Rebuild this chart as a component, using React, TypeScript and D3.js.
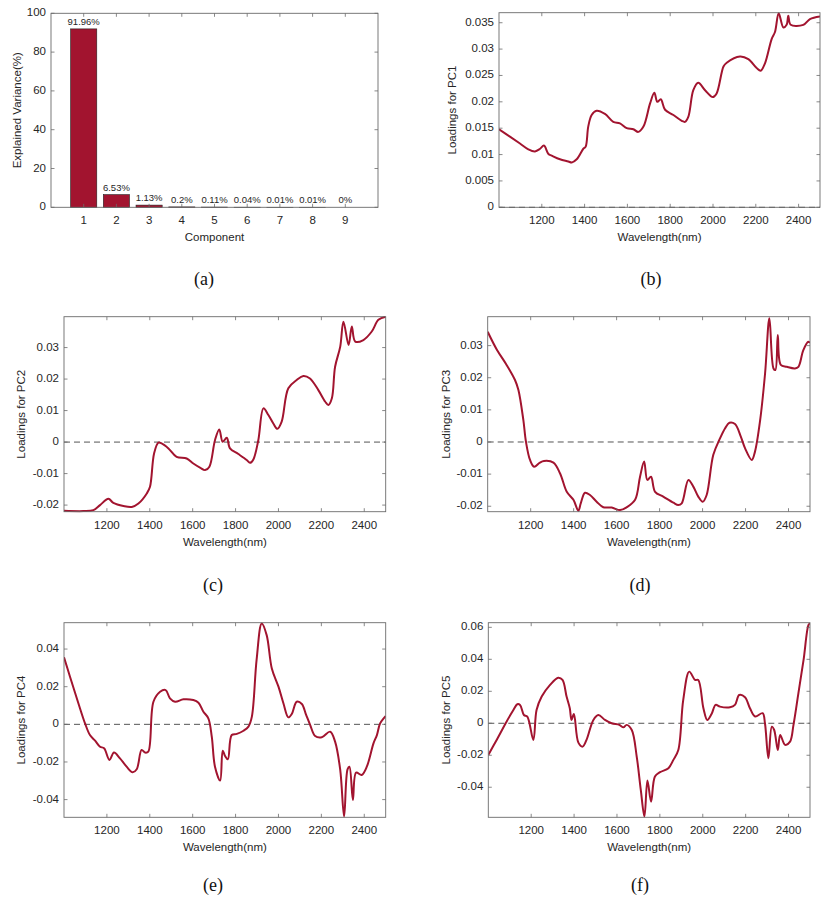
import React from "react";
import * as d3 from "d3";

// ---------- DATA ----------
const components = [1, 2, 3, 4, 5, 6, 7, 8, 9];
const explained = [91.96, 6.53, 1.13, 0.2, 0.11, 0.04, 0.01, 0.01, 0];
const explainedLabels = ["91.96%", "6.53%", "1.13%", "0.2%", "0.11%", "0.04%", "0.01%", "0.01%", "0%"];

const pc1Wl = [1000, 1051, 1098, 1137, 1168, 1192, 1210, 1231, 1246, 1285, 1324, 1340, 1363, 1394, 1405, 1417, 1433, 1456, 1495, 1534, 1565, 1597, 1628, 1651, 1675, 1706, 1726, 1740, 1756, 1776, 1815, 1854, 1869, 1885, 1908, 1931, 1963, 1999, 2017, 2049, 2064, 2126, 2165, 2204, 2223, 2243, 2274, 2290, 2307, 2329, 2344, 2352, 2363, 2422, 2453, 2500];
const pc1Val = [0.0148, 0.0134, 0.0121, 0.011, 0.0106, 0.0111, 0.0117, 0.0101, 0.0098, 0.0091, 0.0087, 0.0085, 0.0091, 0.0111, 0.0115, 0.0153, 0.0175, 0.0183, 0.0177, 0.0162, 0.0159, 0.015, 0.0148, 0.0143, 0.0153, 0.0197, 0.0217, 0.02, 0.0205, 0.0185, 0.0175, 0.0164, 0.0162, 0.0172, 0.0222, 0.0236, 0.0222, 0.0209, 0.0216, 0.0267, 0.0274, 0.0286, 0.0281, 0.0264, 0.0259, 0.0273, 0.0319, 0.0333, 0.0368, 0.0341, 0.0346, 0.0363, 0.0346, 0.0346, 0.0357, 0.0362];

const pc2Wl = [1000, 1090, 1137, 1168, 1207, 1230, 1277, 1316, 1347, 1386, 1401, 1420, 1440, 1455, 1487, 1525, 1572, 1603, 1634, 1658, 1678, 1704, 1724, 1740, 1759, 1774, 1813, 1852, 1867, 1883, 1906, 1930, 1953, 1976, 1995, 2015, 2046, 2085, 2116, 2147, 2186, 2218, 2233, 2249, 2264, 2288, 2303, 2327, 2342, 2358, 2396, 2435, 2466, 2500];
const pc2Val = [-0.0218, -0.0219, -0.0216, -0.02, -0.018, -0.0193, -0.0203, -0.0206, -0.0195, -0.0163, -0.0142, -0.0036, -0.0002, -0.0004, -0.002, -0.0047, -0.0052, -0.0068, -0.0081, -0.0089, -0.0078, 0.0006, 0.004, 0.0001, 0.0014, -0.002, -0.0038, -0.0057, -0.0066, -0.0055, 0.0006, 0.0107, 0.0086, 0.0059, 0.0042, 0.0065, 0.0171, 0.0197, 0.021, 0.0202, 0.0165, 0.0128, 0.0118, 0.0139, 0.0239, 0.0303, 0.0382, 0.0308, 0.0367, 0.0319, 0.0324, 0.0351, 0.0388, 0.0398];

const pc3Wl = [1000, 1042, 1088, 1127, 1143, 1166, 1178, 1197, 1216, 1243, 1262, 1306, 1337, 1368, 1399, 1422, 1433, 1453, 1476, 1507, 1538, 1577, 1616, 1647, 1686, 1709, 1728, 1743, 1760, 1779, 1817, 1864, 1887, 1903, 1934, 1957, 1980, 2001, 2019, 2050, 2081, 2105, 2125, 2151, 2178, 2198, 2229, 2244, 2268, 2291, 2311, 2330, 2339, 2350, 2364, 2392, 2430, 2446, 2469, 2492, 2500];
const pc3Val = [0.0343, 0.0288, 0.024, 0.0193, 0.0162, 0.0068, 0.0001, -0.0056, -0.0077, -0.0064, -0.0059, -0.0064, -0.0098, -0.0155, -0.018, -0.0214, -0.0191, -0.0158, -0.0165, -0.0186, -0.0203, -0.0204, -0.0212, -0.0203, -0.018, -0.0108, -0.0061, -0.0118, -0.0108, -0.0155, -0.017, -0.0189, -0.0196, -0.0191, -0.0118, -0.0139, -0.017, -0.0186, -0.0165, -0.004, 0.0011, 0.0043, 0.006, 0.0056, 0.0017, -0.002, -0.0056, -0.003, 0.0068, 0.0214, 0.0385, 0.0229, 0.0224, 0.0333, 0.024, 0.0234, 0.0229, 0.0234, 0.0286, 0.0312, 0.0309];

const pc4Wl = [1000, 1028, 1067, 1098, 1121, 1145, 1168, 1187, 1212, 1233, 1261, 1292, 1320, 1339, 1362, 1378, 1393, 1417, 1448, 1474, 1494, 1518, 1557, 1603, 1627, 1650, 1673, 1689, 1704, 1728, 1740, 1751, 1764, 1782, 1806, 1837, 1860, 1876, 1898, 1922, 1945, 1969, 2000, 2023, 2046, 2062, 2085, 2109, 2129, 2148, 2171, 2202, 2241, 2264, 2288, 2306, 2322, 2331, 2347, 2362, 2388, 2412, 2443, 2459, 2474, 2500];
const pc4Val = [0.0356, 0.0253, 0.0112, 0.0005, -0.0057, -0.0087, -0.0119, -0.0127, -0.0189, -0.015, -0.0181, -0.0225, -0.0255, -0.0239, -0.0136, -0.015, -0.0145, 0.012, 0.0173, 0.0182, 0.0138, 0.012, 0.0133, 0.0129, 0.0115, 0.0067, 0.0032, -0.0065, -0.0225, -0.0299, -0.014, -0.0168, -0.0186, -0.0057, -0.0051, -0.0034, -0.0012, 0.0041, 0.0342, 0.0536, 0.0474, 0.0297, 0.02, 0.0112, 0.0037, 0.0055, 0.012, 0.0108, 0.005, -0.0004, -0.0062, -0.0069, -0.0039, -0.0092, -0.0242, -0.049, -0.0239, -0.0225, -0.0402, -0.0257, -0.0269, -0.0225, -0.0101, -0.0057, 0.0005, 0.0044];

const pc5Wl = [1000, 1039, 1085, 1117, 1135, 1148, 1166, 1182, 1210, 1225, 1249, 1288, 1326, 1346, 1365, 1380, 1388, 1399, 1420, 1440, 1458, 1490, 1513, 1544, 1575, 1611, 1630, 1645, 1669, 1692, 1711, 1728, 1742, 1759, 1777, 1801, 1840, 1863, 1886, 1909, 1937, 1964, 1979, 2003, 2021, 2041, 2060, 2080, 2127, 2150, 2170, 2197, 2220, 2244, 2279, 2290, 2306, 2322, 2333, 2350, 2361, 2384, 2407, 2423, 2446, 2470, 2493, 2500];
const pc5Val = [-0.0198, -0.0104, 0.001, 0.0083, 0.0119, 0.0115, 0.0052, 0.0042, -0.0104, 0.0083, 0.0167, 0.024, 0.0285, 0.0271, 0.0167, 0.0094, 0.0021, 0.0058, -0.0121, -0.0146, -0.0104, 0.0021, 0.0052, 0.0021, 0.0, -0.001, -0.0025, -0.001, -0.0042, -0.0208, -0.0417, -0.0583, -0.0358, -0.049, -0.0333, -0.0306, -0.0281, -0.0229, -0.0167, 0.0146, 0.0323, 0.0271, 0.0271, 0.0094, 0.0021, 0.0058, 0.0115, 0.0104, 0.01, 0.0115, 0.0177, 0.0163, 0.0094, 0.0042, 0.0063, 0.0, -0.0219, -0.0021, -0.0042, -0.0167, -0.0073, -0.0135, -0.0115, -0.001, 0.0188, 0.0396, 0.0615, 0.0625];

const wlTicks = [1200, 1400, 1600, 1800, 2000, 2200, 2400];
const barTicks = [0, 20, 40, 60, 80, 100];
const pc1Ticks = [0, 0.005, 0.01, 0.015, 0.02, 0.025, 0.03, 0.035];
const pc2Ticks = [-0.02, -0.01, 0, 0.01, 0.02, 0.03];
const pc3Ticks = [-0.02, -0.01, 0, 0.01, 0.02, 0.03];
const pc4Ticks = [-0.04, -0.02, 0, 0.02, 0.04];
const pc5Ticks = [-0.04, -0.02, 0, 0.02, 0.04, 0.06];
const captions = ["(a)", "(b)", "(c)", "(d)", "(e)", "(f)"];

// ---------- STYLE ----------
const RED = "#A2142F";
const AXIS = "#6b6b6b";
const TXT = "#262626";
const FONT = "'Liberation Sans', Arial, Helvetica, sans-serif";
const SERIF = "'Liberation Serif', 'DejaVu Serif', serif";

type Box = { l: number; r: number; t: number; b: number };

function fmt(v: number) {
  if (Math.abs(v) < 1e-12) return "0";
  return String(+v.toFixed(4));
}

function Frame({ box, xTicks, yTicks, x, y, xFmt, yFmt }: any) {
  const tl = 3.5;
  return (
    <g>
      {xTicks.map((t: number, i: number) => (
        <g key={"x" + i}>
          <line x1={x(t)} x2={x(t)} y1={box.b} y2={box.b - tl} stroke={AXIS} strokeWidth={0.8} />
          <line x1={x(t)} x2={x(t)} y1={box.t} y2={box.t + tl} stroke={AXIS} strokeWidth={0.8} />
          <text x={x(t)} y={box.b + 14} textAnchor="middle" dominantBaseline="middle" fontSize={11.5} fill={TXT} fontFamily={FONT}>
            {xFmt(t)}
          </text>
        </g>
      ))}
      {yTicks.map((t: number, i: number) => (
        <g key={"y" + i}>
          <line x1={box.l} x2={box.l + tl} y1={y(t)} y2={y(t)} stroke={AXIS} strokeWidth={0.8} />
          <line x1={box.r} x2={box.r - tl} y1={y(t)} y2={y(t)} stroke={AXIS} strokeWidth={0.8} />
          <text x={box.l - 5} y={y(t)} textAnchor="end" dominantBaseline="middle" fontSize={11.5} fill={TXT} fontFamily={FONT}>
            {yFmt(t)}
          </text>
        </g>
      ))}
      <rect x={box.l} y={box.t} width={box.r - box.l} height={box.b - box.t} fill="none" stroke={AXIS} strokeWidth={0.9} />
    </g>
  );
}

function LoadingPanel({ box, wl, val, yDom, yTicks, label, ylx, zero }: any) {
  const x = d3.scaleLinear().domain([1000, 2500]).range([box.l, box.r]);
  const y = d3.scaleLinear().domain(yDom).range([box.b, box.t]);
  const pts: [number, number][] = wl.map((w: number, i: number) => [x(w), y(val[i])]);
  const line = d3.line().curve(d3.curveCatmullRom.alpha(0.5))(pts) || "";
  const clipId = "clip" + label.replace(/\s/g, "");
  return (
    <g>
      <defs>
        <clipPath id={clipId}>
          <rect x={box.l} y={box.t - 1} width={box.r - box.l} height={box.b - box.t + 2} />
        </clipPath>
      </defs>
      {zero && (
        <line x1={box.l} x2={box.r} y1={y(0)} y2={y(0)} stroke="#555" strokeWidth={1} strokeDasharray="6,4" />
      )}
      <path d={line} fill="none" stroke={RED} strokeWidth={2} clipPath={`url(#${clipId})`} strokeLinejoin="round" />
      <Frame box={box} xTicks={wlTicks} yTicks={yTicks} x={x} y={y} xFmt={(t: number) => String(t)} yFmt={fmt} />
      <text x={(box.l + box.r) / 2} y={box.b + 31} textAnchor="middle" dominantBaseline="middle" fontSize={11.5} fill={TXT} fontFamily={FONT}>
        Wavelength(nm)
      </text>
      <text transform={`translate(${ylx},${(box.t + box.b) / 2}) rotate(-90)`} textAnchor="middle" dominantBaseline="middle" fontSize={11.5} fill={TXT} fontFamily={FONT}>
        {label}
      </text>
    </g>
  );
}

function BarPanel({ box }: { box: Box }) {
  const x = d3.scaleLinear().domain([0, 10]).range([box.l, box.r]);
  const y = d3.scaleLinear().domain([0, 100]).range([box.b, box.t]);
  const bw = (x(0.8) - x(0));
  return (
    <g>
      {components.map((c, i) => (
        <g key={i}>
          <rect x={x(c) - bw / 2} y={y(explained[i])} width={bw} height={Math.max(0, y(0) - y(explained[i]))} fill={RED} stroke="#222" strokeWidth={0.6} />
          <text x={x(c)} y={y(explained[i]) - 4} textAnchor="middle" fontSize={9.5} fill={TXT} fontFamily={FONT}>
            {explainedLabels[i]}
          </text>
        </g>
      ))}
      <Frame box={box} xTicks={components} yTicks={barTicks} x={x} y={y} xFmt={(t: number) => String(t)} yFmt={(t: number) => String(t)} />
      <text x={(box.l + box.r) / 2} y={box.b + 31} textAnchor="middle" dominantBaseline="middle" fontSize={11.5} fill={TXT} fontFamily={FONT}>
        Component
      </text>
      <text transform={`translate(${18},${(box.t + box.b) / 2}) rotate(-90)`} textAnchor="middle" dominantBaseline="middle" fontSize={11.5} fill={TXT} fontFamily={FONT}>
        Explained Variance(%)
      </text>
    </g>
  );
}

export default function App() {
  const boxes: Box[] = [
    { l: 51, r: 378, t: 13.3, b: 207.3 },
    { l: 499, r: 820, t: 12.7, b: 207.3 },
    { l: 64, r: 385.7, t: 316.7, b: 511.7 },
    { l: 487.7, r: 810, t: 316.7, b: 511.7 },
    { l: 64, r: 385.7, t: 622.7, b: 817.3 },
    { l: 488.3, r: 810, t: 622.7, b: 817.3 },
  ];
  const capPos = [
    [204, 281],
    [651, 281],
    [213, 587],
    [640, 587],
    [213, 887],
    [640, 887],
  ];
  return (
    <svg width={822} height={904} style={{ position: "absolute", left: 0, top: 0, background: "#fff" }}>
      <rect width={822} height={904} fill="#fff" />
      <BarPanel box={boxes[0]} />
      <LoadingPanel box={boxes[1]} wl={pc1Wl} val={pc1Val} yDom={[0, 0.0369]} yTicks={pc1Ticks} label="Loadings for PC1" ylx={453} zero />
      <LoadingPanel box={boxes[2]} wl={pc2Wl} val={pc2Val} yDom={[-0.0221, 0.0398]} yTicks={pc2Ticks} label="Loadings for PC2" ylx={22} zero />
      <LoadingPanel box={boxes[3]} wl={pc3Wl} val={pc3Val} yDom={[-0.0217, 0.039]} yTicks={pc3Ticks} label="Loadings for PC3" ylx={447} zero />
      <LoadingPanel box={boxes[4]} wl={pc4Wl} val={pc4Val} yDom={[-0.0494, 0.054]} yTicks={pc4Ticks} label="Loadings for PC4" ylx={22} zero />
      <LoadingPanel box={boxes[5]} wl={pc5Wl} val={pc5Val} yDom={[-0.0588, 0.0629]} yTicks={pc5Ticks} label="Loadings for PC5" ylx={447} zero />
      {captions.map((c, i) => (
        <text key={c} x={capPos[i][0]} y={capPos[i][1]} textAnchor="middle" dominantBaseline="middle" fontSize={18} fill="#111" fontFamily={SERIF}>
          {c}
        </text>
      ))}
    </svg>
  );
}
